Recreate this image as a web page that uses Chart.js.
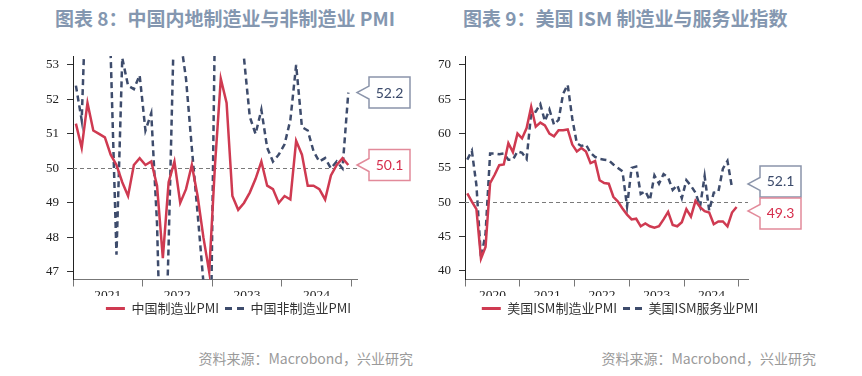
<!DOCTYPE html>
<html>
<head>
<meta charset="utf-8">
<script src="https://cdn.jsdelivr.net/npm/chart.js@4.4.1/dist/chart.umd.min.js"></script>
<style>
  body { margin: 0; background: #fff; }
  #wrap { position: relative; width: 862px; height: 376px; overflow: hidden; font-family: "Noto Sans CJK SC", sans-serif; }
  .title { position: absolute; top: 4px; line-height: 28px; font-size: 19px; font-weight: bold; color: #8497b0; white-space: nowrap; }
  .src { position: absolute; top: 348px; line-height: 20px; font-size: 14px; color: #9a9a9a; white-space: nowrap; }
  canvas { position: absolute; }
</style>
</head>
<body>
<div id="wrap">
  <div class="title" style="left:55px">图表 8：中国内地制造业与非制造业 PMI</div>
  <div class="title" style="left:463px">图表 9：美国 ISM 制造业与服务业指数</div>
  <canvas id="graf-china" width="407" height="285" style="left:25px;top:40px"></canvas>
  <canvas id="graf-us" width="406" height="285" style="left:417px;top:40px"></canvas>
  <div class="src" style="right:449px">资料来源：Macrobond，兴业研究</div>
  <div class="src" style="right:46px">资料来源：Macrobond，兴业研究</div>
</div>
<script>
// monthly data, first point = January of the first year
var chinaYears = ['2021', '2022', '2023', '2024'];
var chinaNames = ['中国制造业PMI', '中国非制造业PMI'];
var chinaMfg = [51.3, 50.6, 51.9, 51.1, 51.0, 50.9, 50.4, 50.1, 49.6, 49.2, 50.1, 50.3,
  50.1, 50.2, 49.5, 47.4, 49.6, 50.2, 49.0, 49.4, 50.1, 49.2, 48.0, 47.0,
  50.1, 52.6, 51.9, 49.2, 48.8, 49.0, 49.3, 49.7, 50.2, 49.5, 49.4, 49.0,
  49.2, 49.1, 50.8, 50.4, 49.5, 49.5, 49.4, 49.1, 49.8, 50.1, 50.3, 50.1];
var chinaNonMfg = [52.4, 51.4, 56.3, 54.9, 55.2, 53.5, 53.3, 47.5, 53.2, 52.4, 52.3, 52.7,
  51.1, 51.6, 48.4, 41.9, 47.8, 54.7, 53.8, 52.6, 50.6, 48.7, 46.7, 41.6,
  54.4, 56.3, 58.2, 56.4, 54.5, 53.2, 51.5, 51.0, 51.7, 50.6, 50.2, 50.4,
  50.7, 51.4, 53.0, 51.2, 51.1, 50.5, 50.2, 50.3, 50.0, 50.2, 50.0, 52.2];
var chinaTicks = [47, 48, 49, 50, 51, 52, 53];

var usYears = ['2020', '2021', '2022', '2023', '2024'];
var usNames = ['美国ISM制造业PMI', '美国ISM服务业PMI'];
var ismMfg = [51.3, 50.1, 49.0, 41.8, 43.5, 52.8, 54.0, 55.4, 55.5, 58.6, 57.3, 60.0,
  59.3, 60.8, 63.9, 61.0, 61.6, 61.2, 60.0, 59.6, 60.5, 60.5, 60.6, 58.4,
  57.4, 57.9, 57.4, 55.7, 56.0, 53.2, 52.8, 52.7, 50.8, 50.1, 49.1, 48.2,
  47.5, 47.6, 46.5, 46.9, 46.5, 46.3, 46.5, 47.5, 48.6, 46.7, 46.5, 47.1,
  49.0, 47.9, 50.2, 49.3, 48.7, 48.5, 46.8, 47.2, 47.2, 46.5, 48.5, 49.3];
var ismSvc = [56.2, 57.5, 52.5, 41.9, 45.4, 57.1, 57.1, 57.0, 57.1, 56.2, 56.2, 57.4,
  57.2, 56.3, 63.0, 63.2, 64.3, 61.8, 63.5, 61.3, 62.0, 65.8, 67.1, 62.2,
  58.6, 58.2, 58.4, 57.2, 56.6, 56.3, 56.2, 56.1, 55.5, 55.0, 54.5, 49.4,
  55.0, 55.2, 51.2, 51.6, 50.3, 53.9, 52.7, 54.1, 53.6, 51.8, 52.5, 50.6,
  53.2, 52.4, 51.4, 49.4, 53.8, 48.8, 51.4, 51.5, 54.9, 56.0, 52.1];
var usTicks = [40, 45, 50, 55, 60, 65, 70];

var RED = '#cf3a51';
var NAVY = '#3e4c6c';

function pontos(valores) {
  return valores.map(function (v, i) { return {x: i + 0.5, y: v}; });
}

// dashed 50 line
var linha50 = {
  id: 'linha50',
  beforeDatasetsDraw: function (chart) {
    var ctx = chart.ctx, a = chart.chartArea;
    var y = chart.scales.y.getPixelForValue(50);
    ctx.save();
    ctx.strokeStyle = '#7a7a7a';
    ctx.lineWidth = 1;
    ctx.setLineDash([4, 3]);
    ctx.beginPath();
    ctx.moveTo(a.left, Math.round(y) + 0.5);
    ctx.lineTo(a.right, Math.round(y) + 0.5);
    ctx.stroke();
    ctx.restore();
  }
};

// boxes with the last values at the right side
var rotulos = {
  id: 'rotulos',
  afterDraw: function (chart) {
    var ctx = chart.ctx, a = chart.chartArea, ys = chart.scales.y;
    var w = 41, h = 31, bx = a.right + 12;
    var caixas = chart.data.datasets.map(function (ds) {
      var v = ds.data[ds.data.length - 1].y;
      var py = ys.getPixelForValue(v);
      return {v: v, vy: py, cy: py, ds: ds};
    });
    caixas.sort(function (p, q) { return p.vy - q.vy; });
    for (var i = 1; i < caixas.length; i++) {
      if (caixas[i].cy - caixas[i - 1].cy < h + 1) {
        var mid = (caixas[i].cy + caixas[i - 1].cy) / 2;
        caixas[i - 1].cy = mid - (h + 1) / 2;
        caixas[i].cy = mid + (h + 1) / 2;
      }
    }
    caixas.forEach(function (c) {
      var top = c.cy - h / 2;
      var tip = Math.min(Math.max(c.vy, top + 13), top + h - 13);
      ctx.save();
      ctx.beginPath();
      ctx.moveTo(bx, top);
      ctx.lineTo(bx + w, top);
      ctx.lineTo(bx + w, top + h);
      ctx.lineTo(bx, top + h);
      ctx.lineTo(bx, tip + 6.5);
      ctx.lineTo(a.right, tip);
      ctx.lineTo(bx, tip - 6.5);
      ctx.closePath();
      ctx.fillStyle = '#fff';
      ctx.fill();
      ctx.lineWidth = 1.5;
      ctx.strokeStyle = c.ds.caixaBorda;
      ctx.stroke();
      ctx.fillStyle = c.ds.caixaTexto;
      ctx.font = '14px Lato, "Open Sans", sans-serif';
      ctx.textAlign = 'center';
      ctx.textBaseline = 'middle';
      ctx.fillText(c.v.toFixed(1), bx + w / 2, c.cy + 0.5);
      ctx.restore();
    });
  }
};

function criarGrafico(id, nomes, solida, tracejada, anos, yTicks, yMin, yMax, xMax) {
  return new Chart(document.getElementById(id), {
    type: 'line',
    data: {
      datasets: [{
        label: nomes[0],
        data: pontos(solida),
        borderColor: RED,
        backgroundColor: RED,
        borderWidth: 2.5,
        pointRadius: 0,
        tension: 0,
        clip: 0,
        caixaBorda: '#e28a9a',
        caixaTexto: '#d62d4c'
      }, {
        label: nomes[1],
        data: pontos(tracejada),
        borderColor: NAVY,
        backgroundColor: NAVY,
        borderWidth: 2.5,
        borderDash: [6, 4],
        pointRadius: 0,
        tension: 0,
        clip: 0,
        caixaBorda: '#8a94aa',
        caixaTexto: '#3b4a6b'
      }]
    },
    options: {
      responsive: false,
      animation: false,
      layout: {padding: {top: 16, left: 0, right: 0, bottom: 0}},
      scales: {
        x: {
          type: 'linear',
          min: 0,
          max: xMax,
          afterBuildTicks: function (s) {
            var t = [];
            for (var v = 0; v <= anos.length * 12; v += 6) t.push({value: v});
            s.ticks = t;
          },
          afterFit: function (s) { s.height = 16.5; },
          ticks: {
            autoSkip: false,
            maxRotation: 0,
            padding: 1,
            color: '#222',
            font: {family: '"Liberation Serif", "DejaVu Serif", serif', size: 13.5},
            callback: function (v) { return v % 12 === 6 ? anos[(v - 6) / 12] : ''; }
          },
          grid: {
            drawOnChartArea: false,
            tickLength: 7,
            tickColor: function (c) { return c.tick && c.tick.value % 12 === 0 ? '#777' : 'rgba(0,0,0,0)'; }
          },
          border: {color: '#777', width: 1}
        },
        y: {
          min: yMin,
          max: yMax,
          afterBuildTicks: function (s) {
            s.ticks = yTicks.map(function (v) { return {value: v}; });
          },
          afterFit: function (s) { s.width = 48; },
          ticks: {
            padding: 8,
            color: '#222',
            font: {family: '"Liberation Serif", "DejaVu Serif", serif', size: 13}
          },
          grid: {drawOnChartArea: false, tickLength: 6, color: '#333'},
          border: {color: '#222', width: 1}
        },
        espaco: {
          position: 'right',
          display: true,
          min: 0,
          max: 1,
          grid: {display: false},
          border: {display: false},
          ticks: {display: false},
          afterFit: function (s) { s.width = 75; }
        }
      },
      plugins: {
        legend: {
          position: 'bottom',
          labels: {
            usePointStyle: true,
            pointStyleWidth: 19,
            padding: 6,
            color: '#333',
            font: {family: '"Noto Sans CJK SC", sans-serif', size: 13},
            generateLabels: function (chart) {
              var itens = Chart.defaults.plugins.legend.labels.generateLabels(chart);
              itens.forEach(function (it, i) {
                it.pointStyle = 'line';
                it.lineWidth = 3;
                it.lineDash = i === 1 ? [7, 5] : [];
              });
              return itens;
            }
          }
        },
        tooltip: {enabled: false}
      }
    },
    plugins: [linha50, rotulos]
  });
}

var graf_china = criarGrafico('graf-china', chinaNames, chinaMfg, chinaNonMfg, chinaYears, chinaTicks, 46.78, 53.26, 49);
var graf_us = criarGrafico('graf-us', usNames, ismMfg, ismSvc, usYears, usTicks, 38.75, 71.3, 62);
</script>
</body>
</html>
